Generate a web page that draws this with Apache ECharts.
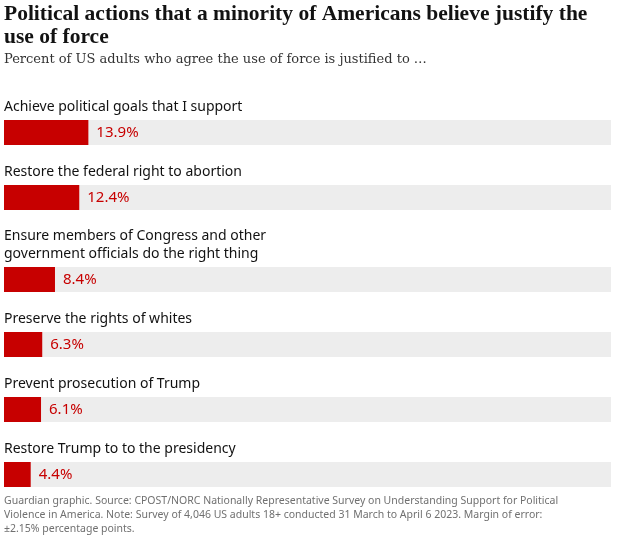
<!DOCTYPE html>
<html><head><meta charset="utf-8">
<script src="https://cdn.jsdelivr.net/npm/echarts@6/dist/echarts.min.js"></script>
<style>html,body{margin:0;padding:0;background:#fff}#c{width:618px;height:538px}</style>
</head><body><div id="c"></div>
<script>
var categories = ['Achieve political goals that I support', 'Restore the federal right to abortion',
  'Ensure members of Congress and other\ngovernment officials do the right thing',
  'Preserve the rights of whites', 'Prevent prosecution of Trump', 'Restore Trump to to the presidency'];
var values = [13.9, 12.4, 8.4, 6.3, 6.1, 4.4];
var barTops = [120, 185, 267, 332, 397, 462];

var chart = echarts.init(document.getElementById('c'));
var grids = [], xAxes = [], yAxes = [], series = [], titles = [];
titles.push({left: 4, top: 3, padding: 0, text: 'Political actions that a minority of Americans believe justify the\nuse of force',
  textStyle: {fontFamily: 'Liberation Serif', fontWeight: 'bold', fontSize: 21.5, lineHeight: 23, color: '#121212'}});
titles.push({left: 4, top: 53, padding: 0, text: 'Percent of US adults who agree the use of force is justified to …',
  textStyle: {fontFamily: 'DejaVu Serif', fontWeight: 'normal', fontSize: 13, color: '#333'}});
titles.push({left: 4, top: 494, padding: 0, text: 'Guardian graphic. Source: CPOST/NORC Nationally Representative Survey on Understanding Support for Political\nViolence in America. Note: Survey of 4,046 US adults 18+ conducted 31 March to April 6 2023. Margin of error:\n±2.15% percentage points.',
  textStyle: {fontFamily: 'Noto Sans', fontWeight: 'normal', fontSize: 10.5, lineHeight: 14, color: '#707070'}});
categories.forEach(function (c, i) {
  var twoLine = c.indexOf('\n') >= 0;
  titles.push({left: 4, top: barTops[i] - (twoLine ? 40 : 22), padding: 0, text: c,
    textStyle: {fontFamily: 'Noto Sans', fontWeight: 'normal', fontSize: 14, lineHeight: 18, color: '#121212'}});
  grids.push({left: 4, top: barTops[i], width: 607, height: 25});
  xAxes.push({gridIndex: i, type: 'value', min: 0, max: 100, show: false});
  yAxes.push({gridIndex: i, type: 'category', data: [c], show: false});
  series.push({type: 'bar', xAxisIndex: i, yAxisIndex: i, data: [values[i]], barWidth: 25,
    itemStyle: {color: '#c70000'}, showBackground: true, backgroundStyle: {color: '#ededed'},
    label: {show: true, position: 'right', distance: 8, formatter: '{c}%', color: '#c70000',
      fontFamily: 'Noto Sans', fontSize: 15}, silent: true});
});
chart.setOption({animation: false, title: titles, grid: grids, xAxis: xAxes, yAxis: yAxes, series: series});
</script></body></html>
